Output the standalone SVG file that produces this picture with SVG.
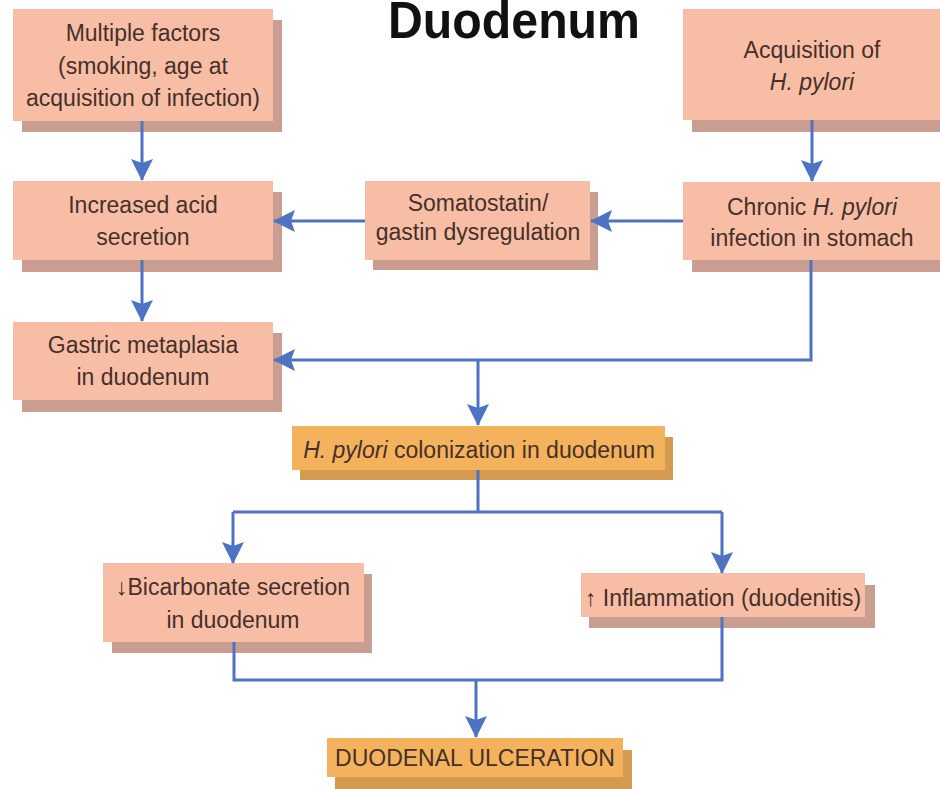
<svg xmlns="http://www.w3.org/2000/svg" width="940" height="789" viewBox="0 0 940 789">
<defs>
<marker id="ah" markerUnits="userSpaceOnUse" markerWidth="22" markerHeight="22" viewBox="0 0 22 22" refX="21" refY="11" orient="auto">
<path d="M0,0 L22,11 L0,22 L4,11 Z" fill="#4e73c3"/>
</marker>
</defs>
<style>
.box{fill:#f8bea5}
.sh{fill:#c99e90}
.obox{fill:#f5b25d}
.osh{fill:#d49a4f}
.t{font-family:"Liberation Sans",Arial,sans-serif;font-size:23px;fill:#45302a;text-anchor:middle}
.i{font-style:italic}
.ln{fill:none;stroke:#4e73c3;stroke-width:3}
.ar{fill:none;stroke:#4e73c3;stroke-width:3;marker-end:url(#ah)}
.title{font-family:"Liberation Sans",Arial,sans-serif;font-weight:bold;font-size:52px;fill:#111;text-anchor:middle}
</style>
<rect width="940" height="789" fill="#ffffff"/>
<text class="title" x="514" y="38" textLength="252" lengthAdjust="spacingAndGlyphs">Duodenum</text>

<g id="n-multiple">
<rect class="sh" x="22" y="20" width="260" height="112"/>
<rect class="box" x="13" y="9" width="260" height="112"/>
<text class="t" x="143" y="41">Multiple factors</text>
<text class="t" x="143" y="74">(smoking, age at</text>
<text class="t" x="143" y="106">acquisition of infection)</text>
</g>

<g id="n-acquisition">
<rect class="sh" x="692" y="20" width="260" height="112"/>
<rect class="box" x="683" y="9" width="260" height="111"/>
<text class="t" x="812" y="58">Acquisition of</text>
<text class="t i" x="812" y="90">H. pylori</text>
</g>

<g id="n-increased">
<rect class="sh" x="22" y="192" width="260" height="80"/>
<rect class="box" x="13" y="181" width="260" height="79"/>
<text class="t" x="143" y="213">Increased acid</text>
<text class="t" x="143" y="245">secretion</text>
</g>

<g id="n-somatostatin">
<rect class="sh" x="373" y="192" width="225" height="78"/>
<rect class="box" x="365" y="181" width="225" height="79"/>
<text class="t" x="478" y="211">Somatostatin/</text>
<text class="t" x="478" y="240">gastin dysregulation</text>
</g>

<g id="n-chronic">
<rect class="sh" x="692" y="192" width="260" height="80"/>
<rect class="box" x="683" y="182" width="260" height="78"/>
<text class="t" x="812" y="215">Chronic <tspan class="i">H. pylori</tspan></text>
<text class="t" x="812" y="246">infection in stomach</text>
</g>

<g id="n-gastric">
<rect class="sh" x="22" y="333" width="260" height="79"/>
<rect class="box" x="13" y="322" width="260" height="78"/>
<text class="t" x="143" y="353">Gastric metaplasia</text>
<text class="t" x="143" y="385">in duodenum</text>
</g>

<g id="n-colonization">
<rect class="osh" x="300" y="437" width="373" height="43"/>
<rect class="obox" x="292" y="426" width="373" height="44"/>
<text class="t" x="479" y="458"><tspan class="i">H. pylori</tspan> colonization in duodenum</text>
</g>

<g id="n-bicarbonate">
<rect class="sh" x="112" y="574" width="260" height="79"/>
<rect class="box" x="103" y="563" width="261" height="79"/>
<text class="t" x="233" y="595">↓Bicarbonate secretion</text>
<text class="t" x="233" y="628">in duodenum</text>
</g>

<g id="n-inflammation">
<rect class="sh" x="589" y="585" width="286" height="43"/>
<rect class="box" x="581" y="573" width="284" height="44"/>
<text class="t" x="723" y="606">↑ Inflammation (duodenitis)</text>
</g>

<g id="n-ulceration">
<rect class="osh" x="335" y="750" width="297" height="39"/>
<rect class="obox" x="327" y="738" width="296" height="39"/>
<text class="t" x="475" y="766">DUODENAL ULCERATION</text>
</g>

<g id="connectors">
<line class="ar" x1="142" y1="121" x2="142" y2="180"/>
<line class="ar" x1="812" y1="120" x2="812" y2="181"/>
<line class="ar" x1="142" y1="260" x2="142" y2="321"/>
<line class="ar" x1="683" y1="221" x2="591" y2="221"/>
<line class="ar" x1="365" y1="221" x2="274" y2="221"/>
<polyline class="ar" points="811,260 811,360 274,360"/>
<line class="ar" x1="478" y1="360" x2="478" y2="425"/>
<line class="ln" x1="478" y1="470" x2="478" y2="512"/>
<line class="ln" x1="233" y1="512" x2="722" y2="512"/>
<line class="ar" x1="233" y1="512" x2="233" y2="563"/>
<line class="ar" x1="722" y1="512" x2="722" y2="573"/>
<polyline class="ln" points="234,642 234,680 722,680 722,617"/>
<line class="ar" x1="476" y1="680" x2="476" y2="737"/>
</g>
</svg>
